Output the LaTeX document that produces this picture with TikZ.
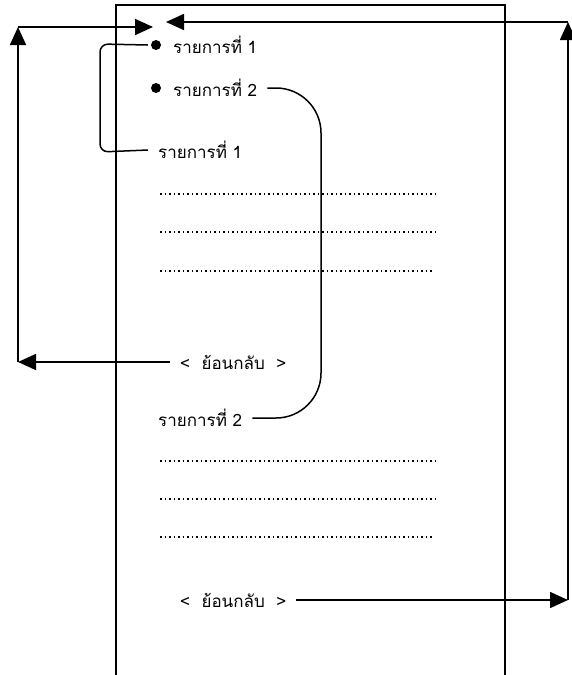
\documentclass[tikz,border=0pt]{standalone}
\usepackage{fontspec}
\newfontfamily\thaifont[Script=Thai]{Loma}
\usepackage{tikz}
\usetikzlibrary{arrows.meta,positioning,calc}
\tikzset{
    tx/.style={ % plain thai text
        font=\thaifont\fontsize{17}{19}\selectfont,
        inner xsep=10pt,
        inner ysep=2pt
        },
    itm/.style={ % bullet text
        tx,
        anchor=west
        },
    bul/.style={
        circle,
        fill=black,
        inner sep=0pt,
        minimum size=10pt
        },
    brk/.style={ % bracket links
        line width=1.5pt,
        rounded corners=8pt
        },
    arrout/.style={
        line width=1.6pt,
        -{Triangle[length=18pt,width=16pt]}
        },
    dots/.style={
        line width=1.5pt,
        dash pattern=on 1.8pt off 2.7pt
        }
}

\begin{document}
\begin{tikzpicture}[x=1pt,y=-1pt]
\useasboundingbox (0,0) rectangle (571,675);

%%%%% page
\draw[line width=1.6pt] (116,675) -- (116,5) -- (505,5) -- (505,675);

%%%%% menu items
\node[bul] (bul1) at (156,45) {};
\node[itm] (b1) at (163,45) {รายการที่ 1};
\node[bul] (bul2) at (156,88) {};
\node[itm] (b2) at (163,88) {รายการที่ 2};

%%%%% section 1
\node[itm] (h1) at (148,150) {รายการที่ 1};
\foreach \y/\e in {194/436,232/436,271/432}
  \draw[dots] (160,\y) -- (\e,\y);
\node[itm] (r1) at (170,362) {<~ ย้อนกลับ ~>};

%%%%% section 2
\node[itm] (h2) at (148,418) {รายการที่ 2};
\foreach \y/\e in {461/436,499/436,537/432}
  \draw[dots] (160,\y) -- (\e,\y);
\node[itm] (r2) at (170,600) {<~ ย้อนกลับ ~>};

%%%%% brackets
\draw[brk] ([xshift=-3pt]bul1.west) -- (100,44) -- (100,152) -- (h1.west);
\coordinate (rb) at (321,250);
\draw[brk, rounded corners=45pt] (b2.east) -| (rb) |- (h2.east);

%%%%% back links
\coordinate (lb) at (18,362);
\coordinate (lt) at (18,27);
\coordinate (ltip) at (153,27);
\draw[arrout] (r1.west) -- (lb);
\draw[arrout] (lb) -- (lt);
\draw[arrout] (lt) -- (ltip);

\coordinate (rr) at (568,600);
\coordinate (rt) at (568,22);
\coordinate (rtip) at (166,22);
\draw[arrout] (r2.east) -- (rr);
\draw[arrout] (rr) -- (rt);
\draw[arrout] (rt) -- (rtip);

\end{tikzpicture}
\end{document}
